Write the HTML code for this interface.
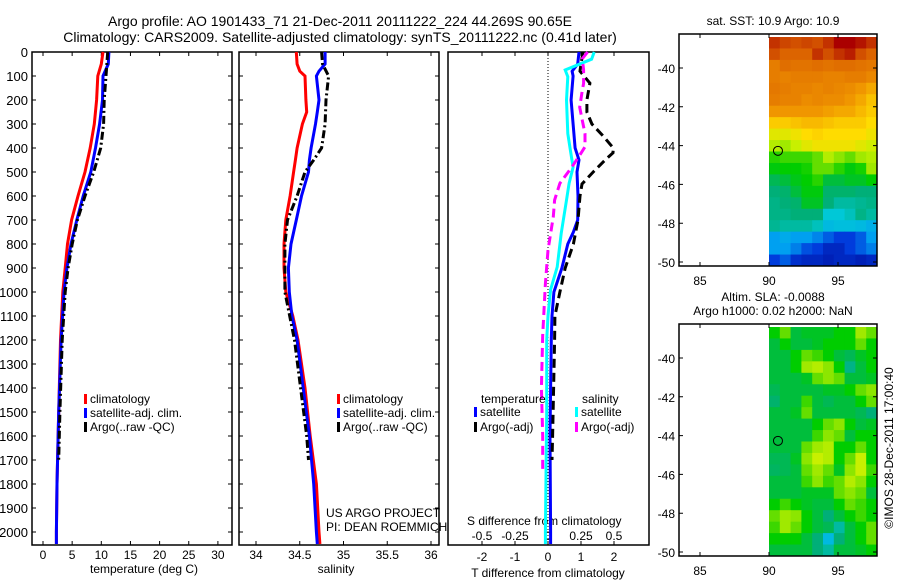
<!DOCTYPE html>
<html><head><meta charset="utf-8"><style>
html,body{margin:0;padding:0;background:#fff;}
svg{display:block;font-family:"Liberation Sans",sans-serif;}
</style></head><body>
<svg id="fig" width="900" height="580" viewBox="0 0 900 580">
<text x="340" y="26" font-size="14" text-anchor="middle">Argo profile: AO 1901433_71 21-Dec-2011 20111222_224 44.269S 90.65E</text>
<text x="340" y="42" font-size="14" text-anchor="middle">Climatology: CARS2009. Satellite-adjusted climatology: synTS_20111222.nc (0.41d later)</text>
<text x="773" y="25" font-size="12" text-anchor="middle">sat. SST: 10.9 Argo: 10.9</text>
<text x="773" y="301" font-size="12" text-anchor="middle">Altim. SLA: -0.0088</text>
<text x="773" y="315" font-size="12" text-anchor="middle">Argo h1000: 0.02 h2000: NaN</text>
<text transform="translate(893,448) rotate(-90)" font-size="12" text-anchor="middle">©IMOS 28-Dec-2011 17:00:40</text>
<text x="90" y="573" font-size="12">temperature (deg C)</text>
<text x="336" y="573" font-size="12" text-anchor="middle">salinity</text>
<text x="548" y="577" font-size="12" text-anchor="middle">T difference from climatology</text>
<text x="467" y="525" font-size="12">S difference from climatology</text>
<text x="326" y="517" font-size="12">US ARGO PROJECT</text>
<text x="326" y="531" font-size="12">PI: DEAN ROEMMICH</text>
<g id="plots"></g>
</svg>
<script>
// ---------- data ----------
const depths = [0,50,100,200,300,400,500,600,700,800,900,1000,1200,1500,1800,2000,2050];
const tempClim = [10.3,10.0,9.4,9.2,8.8,8.1,7.2,6.0,4.9,4.2,3.8,3.4,3.0,2.7,2.4,2.3,2.3];
const tempSat = [11.3,11.2,10.3,10.2,9.7,9.0,8.2,6.9,5.8,4.8,4.1,3.6,3.1,2.7,2.4,2.3,2.3];
const argoDepths = [0,100,200,300,400,500,600,700,800,900,1000,1200,1500,1700];
const tempArgo = [11.1,10.8,10.5,10.4,9.9,8.7,7.2,5.9,5.0,4.3,3.8,3.3,2.9,2.7];
const salDepths = [0,50,80,100,200,250,300,400,450,500,600,700,800,900,1000,1100,1200,1400,1600,1800,2000,2050];
const salClim = [34.46,34.47,34.50,34.56,34.57,34.58,34.53,34.47,34.45,34.43,34.39,34.34,34.32,34.32,34.34,34.42,34.48,34.56,34.62,34.69,34.72,34.73];
const salSat = [34.79,34.79,34.72,34.69,34.72,34.70,34.68,34.63,34.61,34.60,34.52,34.46,34.40,34.37,34.38,34.41,34.47,34.54,34.61,34.66,34.69,34.70];
const salArgoDepths = [0,50,100,200,300,400,450,500,600,700,800,900,1000,1200,1400,1600,1700];
const salArgo = [34.75,34.76,34.83,34.80,34.79,34.75,34.66,34.56,34.47,34.36,34.33,34.33,34.33,34.44,34.51,34.58,34.60];
const dtDepths = [0,50,80,100,200,300,400,450,500,600,700,750,800,900,1000,1100,1200,1400,1600,1800,2000,2050];
const dtSat = [0.94,0.90,0.73,0.76,0.70,0.76,0.82,0.94,0.88,0.91,0.90,0.77,0.60,0.42,0.18,0.12,0.10,0.08,0.06,0.07,0.08,0.08];
const dtArgoDepths = [0,50,80,130,200,250,300,350,400,420,450,500,550,600,700,800,900,1000,1100,1200,1400,1600,1700];
const dtArgo = [1.06,1.0,0.97,1.27,1.18,1.18,1.33,1.67,1.98,1.97,1.73,1.37,1.03,0.97,0.91,0.77,0.52,0.36,0.21,0.20,0.17,0.14,0.12];
const dsDepths = [0,30,75,103,200,340,410,480,547,617,756,896,990,1100,1200,1500,2000,2050];
const dsSat = [0.35,0.33,0.13,0.15,0.14,0.15,0.17,0.19,0.16,0.14,0.10,0.07,0.02,0.0,-0.01,-0.01,-0.02,-0.02];
const dsArgoDepths = [0,28,75,103,131,160,230,285,340,395,430,480,547,617,686,826,965,1180,1400,1600,1740];
const dsArgo = [0.30,0.26,0.27,0.27,0.27,0.26,0.24,0.26,0.28,0.28,0.24,0.18,0.09,0.05,0.04,0.0,-0.02,-0.04,-0.05,-0.04,-0.04];
const depthTicks = [0,100,200,300,400,500,600,700,800,900,1000,1100,1200,1300,1400,1500,1600,1700,1800,1900,2000];
const tempTicks = [0,5,10,15,20,25,30];
const salTicks = [34,34.5,35,35.5,36];
const salTickLabels = ["34","34.5","35","35.5","36"];
const dtTicks = [-2,-1,0,1,2];
const dsTicks = [-0.5,-0.25,0,0.25,0.5];
const dsTickLabels = ["-0.5","-0.25","0","0.25","0.5"];
const latTicks = [-40,-42,-44,-46,-48,-50];
const lonTicks = [85,90,95];
const argoLon = 90.65, argoLat = -44.269;
// map grids: colormap index 0..1, rows from north (-38.3) to south (-50.2), cols from 90E to 97.8E
const sstGrid = [
[0.95,0.93,0.92,0.93,0.92,0.95,1.0,1.0,0.98,0.95],
[0.92,0.9,0.9,0.9,0.95,0.92,0.95,0.97,0.92,0.9],
[0.85,0.88,0.87,0.87,0.88,0.87,0.88,0.88,0.87,0.86],
[0.85,0.84,0.85,0.85,0.85,0.84,0.84,0.85,0.85,0.83],
[0.86,0.85,0.84,0.84,0.83,0.84,0.83,0.82,0.8,0.78],
[0.85,0.84,0.84,0.82,0.83,0.82,0.82,0.8,0.78,0.75],
[0.8,0.8,0.8,0.8,0.8,0.79,0.78,0.78,0.76,0.74],
[0.74,0.74,0.75,0.76,0.76,0.75,0.74,0.74,0.74,0.72],
[0.68,0.68,0.7,0.72,0.73,0.72,0.72,0.72,0.72,0.7],
[0.64,0.63,0.65,0.68,0.7,0.7,0.7,0.7,0.68,0.66],
[0.57,0.58,0.58,0.58,0.6,0.64,0.62,0.6,0.63,0.64],
[0.54,0.55,0.55,0.56,0.6,0.6,0.57,0.54,0.56,0.63],
[0.48,0.5,0.53,0.55,0.57,0.5,0.5,0.52,0.52,0.55],
[0.45,0.46,0.5,0.54,0.54,0.46,0.46,0.46,0.45,0.45],
[0.44,0.45,0.46,0.52,0.52,0.45,0.42,0.42,0.43,0.44],
[0.44,0.44,0.45,0.45,0.45,0.38,0.38,0.4,0.44,0.42],
[0.43,0.42,0.42,0.42,0.4,0.35,0.36,0.36,0.35,0.33],
[0.3,0.32,0.3,0.3,0.26,0.2,0.15,0.15,0.2,0.3],
[0.3,0.3,0.25,0.18,0.15,0.1,0.1,0.15,0.2,0.25],
[0.15,0.2,0.12,0.1,0.1,0.08,0.1,0.1,0.08,0.1]];
const slaGrid = [
[0.55,0.6,0.5,0.52,0.52,0.52,0.55,0.55,0.63,0.6],
[0.5,0.55,0.5,0.5,0.52,0.55,0.55,0.55,0.6,0.55],
[0.5,0.5,0.55,0.6,0.58,0.55,0.5,0.48,0.52,0.55],
[0.5,0.5,0.55,0.63,0.64,0.62,0.55,0.44,0.5,0.55],
[0.5,0.5,0.5,0.52,0.6,0.62,0.6,0.5,0.5,0.52],
[0.48,0.5,0.5,0.5,0.5,0.52,0.52,0.55,0.6,0.62],
[0.46,0.5,0.5,0.58,0.5,0.48,0.5,0.5,0.55,0.6],
[0.5,0.5,0.52,0.6,0.5,0.5,0.5,0.5,0.48,0.45],
[0.5,0.5,0.5,0.5,0.55,0.6,0.62,0.55,0.5,0.52],
[0.5,0.5,0.5,0.5,0.58,0.62,0.6,0.5,0.55,0.55],
[0.5,0.5,0.5,0.6,0.63,0.64,0.55,0.55,0.6,0.55],
[0.48,0.48,0.52,0.62,0.65,0.64,0.55,0.6,0.65,0.55],
[0.47,0.48,0.5,0.6,0.63,0.6,0.52,0.62,0.65,0.58],
[0.5,0.5,0.5,0.58,0.62,0.58,0.6,0.64,0.62,0.55],
[0.5,0.5,0.5,0.52,0.52,0.52,0.6,0.62,0.6,0.5],
[0.55,0.58,0.55,0.52,0.5,0.5,0.55,0.6,0.58,0.55],
[0.6,0.63,0.62,0.55,0.5,0.45,0.5,0.55,0.58,0.55],
[0.58,0.63,0.6,0.55,0.5,0.48,0.42,0.5,0.55,0.6],
[0.55,0.55,0.55,0.5,0.45,0.35,0.45,0.5,0.55,0.6],
[0.5,0.5,0.5,0.5,0.45,0.42,0.5,0.5,0.52,0.55]];

// ---------- helpers ----------
const NS="http://www.w3.org/2000/svg";
const root=document.getElementById('plots');
function mk(tag,attrs,parent){const e=document.createElementNS(NS,tag);for(const k in attrs)e.setAttribute(k,attrs[k]);(parent||root).appendChild(e);return e;}
const TOP=52,BOT=545;
const yD=d=>TOP+d*0.24;
const xT=v=>43+v*5.83;
const xS=v=>256+(v-34)*87.5;
const xDT=v=>548+v*33;
const xDS=v=>548+v*132;

function frame(x0,x1,name,leftLabels){
  const r=mk('rect',{x:x0,y:TOP,width:x1-x0,height:BOT-TOP,fill:'none',stroke:'#000','stroke-width':1.5});
  
  
  depthTicks.forEach(d=>{
    const t=mk('path',{d:`M${x0},${yD(d)}h4M${x1},${yD(d)}h-4`,stroke:'#000','stroke-width':1});
    
    
    if(leftLabels){
      const l=mk('text',{x:28,y:yD(d)+5,'font-size':13,'text-anchor':'end'});
      l.textContent=d;
      
      
    }
  });
}
function xticks(vals,labels,fx,ylab,top){
  vals.forEach((v,i)=>{
    const t=mk('path',{d:`M${fx(v)},${BOT}v-4`+(top?`M${fx(v)},${TOP}v4`:''),stroke:'#000','stroke-width':1});
    
    
    const l=mk('text',{x:fx(v),y:ylab,'font-size':12,'text-anchor':'middle'});
    l.textContent=labels[i];
    
    
  });
}
function line(ds,vs,fx,color,dash,name){
  const pts=ds.map((d,i)=>fx(vs[i]).toFixed(1)+','+yD(Math.min(d,2054)).toFixed(1)).join(' ');
  const p=mk('polyline',{points:pts,fill:'none',stroke:color,'stroke-width':3,'stroke-dasharray':dash||'none'});
  
  
}
function legend(x,y,color,text){
  const m=mk('rect',{x:x-3,y:y-9,width:3,height:10,fill:color});
  
  
  const t=mk('text',{x:x+3,y:y,'font-size':12});
  t.textContent=text;
  
  
}

// panel 1 temperature
frame(32,232,'temperature-panel',true);
xticks(tempTicks,tempTicks.map(String),xT,559,true);
line(depths,tempClim,xT,'#ff0000',null,'temperature-climatology-line');
line(depths,tempSat,xT,'#0000ff',null,'temperature-satellite-line');
line(argoDepths,tempArgo,xT,'#000','8,3,2,3','temperature-argo-line');
legend(87,403,'#f00','climatology');legend(87,417,'#00f','satellite-adj. clim.');legend(87,431,'#000','Argo(..raw -QC)');

// panel 2 salinity
frame(239,439,'salinity-panel',false);
xticks(salTicks,salTickLabels,xS,559,true);
line(salDepths,salClim,xS,'#ff0000',null,'salinity-climatology-line');
line(salDepths,salSat,xS,'#0000ff',null,'salinity-satellite-line');
line(salArgoDepths,salArgo,xS,'#000','8,3,2,3','salinity-argo-line');
legend(340,403,'#f00','climatology');legend(340,417,'#00f','satellite-adj. clim.');legend(340,431,'#000','Argo(..raw -QC)');

// panel 3 differences
const fr=mk('rect',{x:448,y:TOP,width:201,height:BOT-TOP,fill:'none',stroke:'#000','stroke-width':1.5});


const zl=mk('line',{x1:548,y1:TOP,x2:548,y2:BOT,stroke:'#000','stroke-width':1,'stroke-dasharray':'1,2'});


xticks(dtTicks,dtTicks.map(String),xDT,561,true);
dsTicks.forEach((v,i)=>{
  const l=mk('text',{x:xDS(v),y:540,'font-size':12,'text-anchor':'middle'});
  l.textContent=dsTickLabels[i];
  
  
});
line(dtDepths,dtSat,xDT,'#0000ff',null,'t-diff-satellite-line');
line(dtArgoDepths,dtArgo,xDT,'#000','9,5','t-diff-argo-line');
line(dsDepths,dsSat,xDS,'#00ffff',null,'s-diff-satellite-line');
line(dsArgoDepths,dsArgo,xDS,'#ff00ff','9,5','s-diff-argo-line');
const lt=mk('text',{x:481,y:403,'font-size':12});lt.textContent='temperature';


const ls=mk('text',{x:582,y:403,'font-size':12});ls.textContent='salinity';


legend(477,416,'#00f','satellite');legend(477,431,'#000','Argo(-adj)');
legend(578,416,'#0ff','satellite');legend(578,431,'#f0f','Argo(-adj)');

// maps
const cmapStops=[[0,[0,0,140]],[0.15,[0,60,220]],[0.3,[0,160,240]],[0.38,[0,200,215]],[0.45,[0,175,120]],[0.55,[0,205,0]],[0.65,[200,240,0]],[0.72,[255,220,0]],[0.8,[240,150,0]],[0.9,[220,100,0]],[1,[170,0,0]]];
function cmap(v){for(let i=1;i<cmapStops.length;i++){if(v<=cmapStops[i][0]){const a=cmapStops[i-1],b=cmapStops[i];const t=(v-a[0])/(b[0]-a[0]);return 'rgb('+a[1].map((c,k)=>Math.round(c+(b[1][k]-c)*t)).join(',')+')';}}return 'rgb(170,0,0)';}
function map(top,grid,name){
  const bot=top+232;
  const yL=lat=>top+34+(-40-lat)*19.4;
  const xL=lon=>700+(lon-85)*13.8;
  const g=mk('g',{});
  
  
  const rows=grid.length,cols=grid[0].length;
  const x0=xL(90),x1=877,y0=top+3,y1=bot;
  const cw=(x1-x0)/cols,ch=(y1-y0)/rows;
  grid.forEach((row,r)=>row.forEach((v,c)=>{
    const cell=mk('rect',{x:(x0+c*cw).toFixed(2),y:(y0+r*ch).toFixed(2),width:(cw+0.5).toFixed(2),height:(ch+0.5).toFixed(2),fill:cmap(v)},g);
    
    
  }));
  const f=mk('rect',{x:679,y:top,width:198,height:bot-top,fill:'none',stroke:'#000','stroke-width':1.5});
  
  
  latTicks.forEach(l=>{
    const t=mk('path',{d:`M679,${yL(l)}h4M877,${yL(l)}h-4`,stroke:'#000'});
    
    
    const tl=mk('text',{x:675,y:yL(l)+5,'font-size':12,'text-anchor':'end'});tl.textContent=l;
    
    
  });
  lonTicks.forEach(l=>{
    const t=mk('path',{d:`M${xL(l)},${bot}v-4M${xL(l)},${top}v4`,stroke:'#000'});
    
    
    const tl=mk('text',{x:xL(l),y:bot+19,'font-size':12,'text-anchor':'middle'});tl.textContent=l;
    
    
  });
  const c=mk('circle',{cx:xL(argoLon),cy:yL(argoLat),r:4.5,fill:'none',stroke:'#000','stroke-width':1});
  
  
}
map(34,sstGrid,'sst-map');
map(324,slaGrid,'sla-map');
</script>
</body></html>
